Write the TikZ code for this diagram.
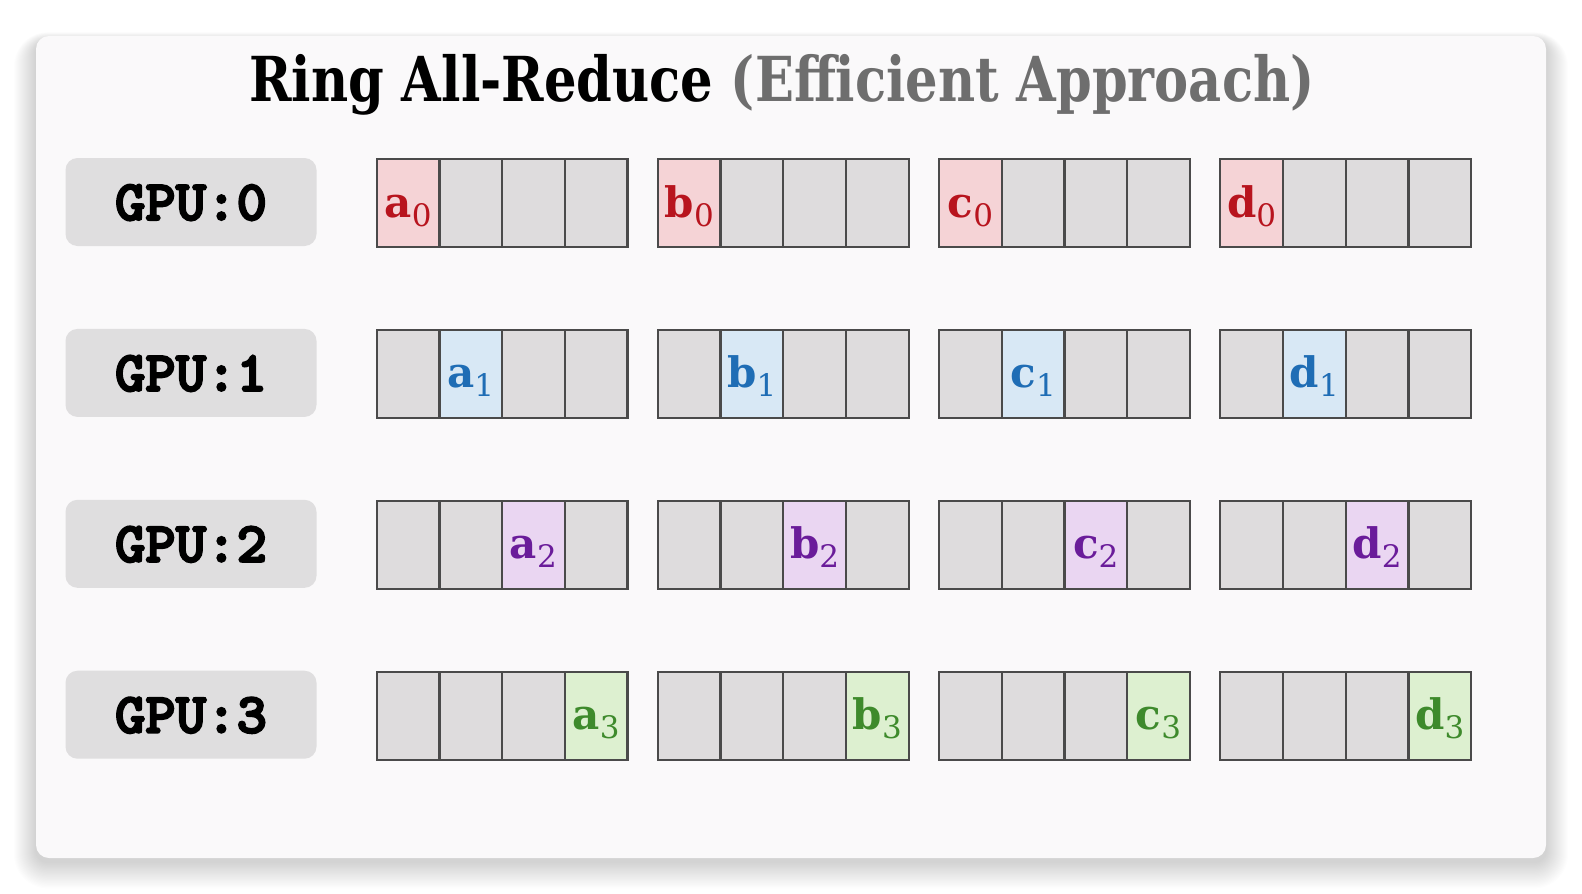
\documentclass[tikz,border=0pt]{standalone}
\usepackage{fontspec}
\usepackage{graphicx}
\setmainfont{DejaVu Serif}
\newfontfamily\titlefont{DejaVu Serif Condensed}
\newfontfamily\gpufont{lmmonolt10-bold.otf}[FakeBold=3.5]
\definecolor{cardbg}{HTML}{FAF9FA}
\definecolor{gpugrey}{HTML}{DFDEDF}
\definecolor{cellgrey}{HTML}{DEDCDD}
\definecolor{cellline}{HTML}{4A4A4A}
\definecolor{titlegray}{HTML}{6E6E6E}
\definecolor{fillred}{HTML}{F5D3D6}
\definecolor{textred}{HTML}{B8141E}
\definecolor{fillblue}{HTML}{D8E8F5}
\definecolor{textblue}{HTML}{1F6DB5}
\definecolor{fillpurple}{HTML}{EAD6F2}
\definecolor{textpurple}{HTML}{6A1C9A}
\definecolor{fillgreen}{HTML}{DDF0D0}
\definecolor{textgreen}{HTML}{3E8A2C}
\tikzset{
  cellbox/.style={draw=cellline, line width=2.3pt, minimum width=62.7pt, minimum height=88pt, inner sep=0pt, anchor=north west, fill=cellgrey},
  gpubox/.style={fill=gpugrey, rounded corners=12pt, minimum width=251pt, minimum height=88pt, inner sep=0pt},
  gputext/.style={anchor=base, inner sep=0pt, font=\gpufont\fontsize{57}{57}\selectfont},
  celllabel/.style={anchor=base, inner sep=0pt},
}
\begin{document}
\begin{tikzpicture}[x=1pt,y=-1pt]
\useasboundingbox (0,0) rectangle (1582,894);
\fill[white] (0,0) rectangle (1582,894);
% shadow
\foreach \i in {1,...,22} {
  \fill[black, opacity=0.009, rounded corners={12+\i}] (36-\i,36-0.4*\i+5) rectangle (1546+\i,858+1.2*\i+4);
}
\fill[cardbg, rounded corners=13pt] (36,36) rectangle (1546,858);
% title
\node[anchor=base, inner sep=0pt] (title) at (782,101) {\resizebox{1065pt}{\height}{\titlefont\fontsize{62}{62}\selectfont\bfseries Ring All-Reduce {\color{titlegray}(Efficient Approach)}}};
% rows
\foreach \r/\col in {0/red,1/blue,2/purple,3/green} {
  \pgfmathsetmacro\ty{158+170.9*\r}
  \node[gpubox] (gpu\r) at (191,\ty+44) {};
  \node[gputext] (gputxt\r) at (gpu\r.center |- 0,\ty+62) {\resizebox{152pt}{\height}{GPU:\r}};
  \foreach \g/\lt in {0/a,1/b,2/c,3/d} {
    \foreach \k in {0,...,3} {
      \pgfmathsetmacro\cx{375.5+281.2*\g+62.7*\k}
      \ifnum\k=\r\relax
        \node[cellbox, fill=fill\col] (cell-\r-\g-\k) at (\cx,\ty) {};
      \else
        \node[cellbox] (cell-\r-\g-\k) at (\cx,\ty) {};
      \fi
    }
    \node[celllabel, text=text\col] (lab-\r-\g) at (cell-\r-\g-\r.north |- 0,\ty+59) {{\fontsize{42}{42}\selectfont\bfseries \lt}\raisebox{-9pt}{\fontsize{31}{31}\selectfont \r}};
  }
}
\end{tikzpicture}
\end{document}
